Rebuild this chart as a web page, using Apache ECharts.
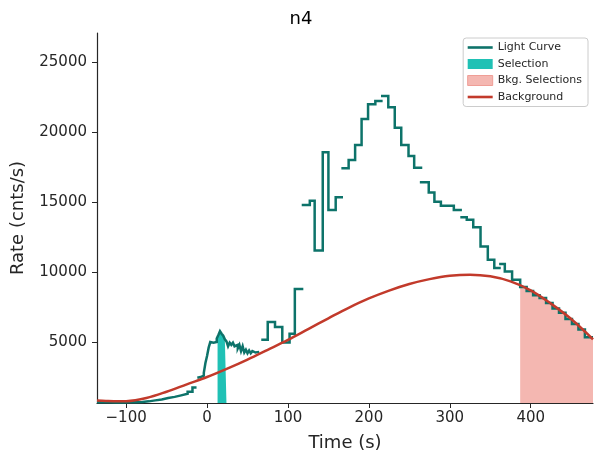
<!DOCTYPE html>
<html>
<head>
<meta charset="utf-8">
<script src="https://cdn.jsdelivr.net/npm/echarts@6/dist/echarts.min.js"></script>
<style>
html,body{margin:0;padding:0;background:#fff;}
#chart{width:602px;height:465px;}
</style>
</head>
<body>
<div id="chart"></div>
<script>
// Light curve bins (start, stop, rate)
const lcStart = [-136,-128,-120,-112,-104,-96,-88,-80,-72,-64,-56,-48,-40,-32,-24,-18,
  -12,-10,-8,-6,-4,-2,0,2,4,6,8,10,12,14,16,18,20,22,24,26,28,30,32,34,36,38,40,42,44,46,48,50,52,54,56,58,60,
  67,75,84,93,102,108.5,
  117,127,133,143,150,159,
  166,175,183,191,199,208,
  215,224,232,240,249,256,
  263,274,281,289,305,
  313,321,329,338,347,355,
  361,368,377,387,395,403,411,419,427,435,443,451,459,467];
const lcStop = [-128,-120,-112,-104,-96,-88,-80,-72,-64,-56,-48,-40,-32,-24,-18,-13,
  -10,-8,-6,-4,-2,0,2,4,6,8,10,12,14,16,18,20,22,24,26,28,30,32,34,36,38,40,42,44,46,48,50,52,54,56,58,60,62,
  75,84,93,102,108.5,119,
  127,133,143,150,159,168,
  175,183,191,199,208,217,
  224,232,240,249,256,266,
  274,281,289,305,315,
  321,329,338,347,355,363,
  368,377,387,395,403,411,419,427,435,443,451,459,467,477];
const lcRate = [700,690,680,680,690,700,720,760,830,900,1000,1080,1190,1300,1450,1750,
  2450,2500,2550,2600,2800,3500,4000,4600,5000,4950,4900,5000,5250,5500,5780,5600,5450,5200,5050,4700,4950,4800,4950,4700,4800,4550,4800,4350,4700,4250,4450,4200,4400,4200,4350,4250,4300,
  5160,6430,6070,4970,5590,8790,
  14810,15110,11540,18570,14450,15360,
  17430,18020,19090,20950,22000,22240,
  22590,21790,20330,19090,18310,17470,
  16430,15690,15040,14740,14450,
  13930,13740,13210,11830,10880,10290,
  10590,10040,9450,8930,8650,8350,8150,7800,7400,7100,6650,6300,5900,5350];

// Background model curve samples
const bkgTime = [-136,-125,-110,-100,-75,-50,-25,0,25,50,75,100,125,150,175,200,225,250,275,300,325,350,375,400,425,450,477];
const bkgRate = [830,790,760,770,1000,1450,1980,2500,3100,3750,4450,5160,5930,6700,7450,8120,8680,9150,9500,9740,9820,9700,9340,8700,7750,6650,5200];

// Selections
const srcSelection = [13, 24];
const bkgSelections = [[387, 477]];

// Axes
const xRange = [-136, 477];
const yRange = [643, 27100];
const xTicks = [-100, 0, 100, 200, 300, 400];
const yTicks = [5000, 10000, 15000, 20000, 25000];

function stepPoints(lo, hi) {
  const pts = [];
  let prevStop = null, prevRate = null;
  for (let i = 0; i < lcStart.length; i++) {
    const s = Math.max(lcStart[i], lo), e = Math.min(lcStop[i], hi);
    if (e <= s) continue;
    if (prevStop !== null && Math.abs(s - prevStop) > 1e-9) {
      pts.push([prevStop, prevRate]);
      pts.push([(prevStop + s) / 2, '-']);
    }
    pts.push([s, lcRate[i]]);
    prevStop = e; prevRate = lcRate[i];
  }
  if (prevStop !== null) pts.push([prevStop, prevRate]);
  return pts;
}

const TEAL = '#0d736a';
const RED = '#c23a2b';
const TURQ = '#20c1b5';
const PINK = '#f4b7b1';
const TXT = '#262626';
const FONT = 'DejaVu Sans';
const LINE_ICON = 'path://M0,0H25V2.6H0Z';

const series = [];
series.push({
  name: 'Selection', type: 'line', step: 'end', symbol: 'none', silent: true,
  data: stepPoints(srcSelection[0], srcSelection[1]),
  lineStyle: {width: 0}, itemStyle: {color: TURQ},
  areaStyle: {color: TURQ, opacity: 1, origin: 'start'}, z: 1
});
bkgSelections.forEach(iv => {
  series.push({
    name: 'Bkg. Selections', type: 'line', step: 'end', symbol: 'none', silent: true,
    data: stepPoints(iv[0], iv[1]),
    lineStyle: {width: 0}, itemStyle: {color: PINK},
    areaStyle: {color: PINK, opacity: 1, origin: 'start'}, z: 1
  });
});
series.push({
  name: 'Light Curve', type: 'line', step: 'end', symbol: 'none', showSymbol: false,
  connectNulls: false, data: stepPoints(-Infinity, Infinity),
  lineStyle: {color: TEAL, width: 2.5, join: 'miter'}, itemStyle: {color: TEAL}, z: 3
});
series.push({
  name: 'Background', type: 'line', smooth: 0.35, symbol: 'none', showSymbol: false,
  data: bkgTime.map((t, i) => [t, bkgRate[i]]),
  lineStyle: {color: RED, width: 2.5}, itemStyle: {color: RED}, z: 4
});

const fmt = v => (v < 0 ? '\u2212' + Math.abs(v) : String(v));

const chart = echarts.init(document.getElementById('chart'), null, {renderer: 'canvas'});
chart.setOption({
  animation: false,
  backgroundColor: '#ffffff',
  title: {
    text: 'n4', left: 'center', top: 5,
    textStyle: {fontFamily: FONT, fontSize: 18, fontWeight: 'normal', color: '#000'}
  },
  grid: {left: 97, right: 9, top: 33, bottom: 62},
  legend: {
    orient: 'vertical', right: 14, top: 38,
    itemWidth: 25, itemHeight: 10, itemGap: 5.5,
    padding: [4, 6, 4, 4],
    borderColor: '#cccccc', borderWidth: 1, borderRadius: 3, backgroundColor: '#fff',
    textStyle: {fontFamily: FONT, fontSize: 11, color: TXT},
    data: [
      {name: 'Light Curve', icon: LINE_ICON, itemStyle: {color: TEAL}},
      {name: 'Selection', icon: 'rect', itemStyle: {color: TURQ}},
      {name: 'Bkg. Selections', icon: 'rect', itemStyle: {color: PINK, borderColor: '#ef9e96', borderWidth: 1}},
      {name: 'Background', icon: LINE_ICON, itemStyle: {color: RED}}
    ]
  },
  xAxis: {
    type: 'value', min: xRange[0], max: xRange[1],
    name: 'Time (s)', nameLocation: 'middle', nameGap: 31,
    nameTextStyle: {fontFamily: FONT, fontSize: 18, color: TXT},
    axisLine: {show: true, onZero: false, lineStyle: {color: TXT, width: 1.2}},
    axisTick: {show: true, length: 5, lineStyle: {color: TXT}, customValues: xTicks},
    axisLabel: {fontFamily: FONT, fontSize: 15, color: TXT, margin: 8, formatter: fmt, customValues: xTicks},
    splitLine: {show: false}
  },
  yAxis: {
    type: 'value', min: yRange[0], max: yRange[1],
    name: 'Rate (cnts/s)', nameLocation: 'middle', nameGap: 70, nameRotate: 90,
    nameTextStyle: {fontFamily: FONT, fontSize: 18, color: TXT},
    axisLine: {show: true, onZero: false, lineStyle: {color: TXT, width: 1.2}},
    axisTick: {show: true, length: 5, lineStyle: {color: TXT}, customValues: yTicks},
    axisLabel: {fontFamily: FONT, fontSize: 15, color: TXT, margin: 10, formatter: fmt, customValues: yTicks},
    splitLine: {show: false}
  },
  series: series
});
</script>
</body>
</html>
